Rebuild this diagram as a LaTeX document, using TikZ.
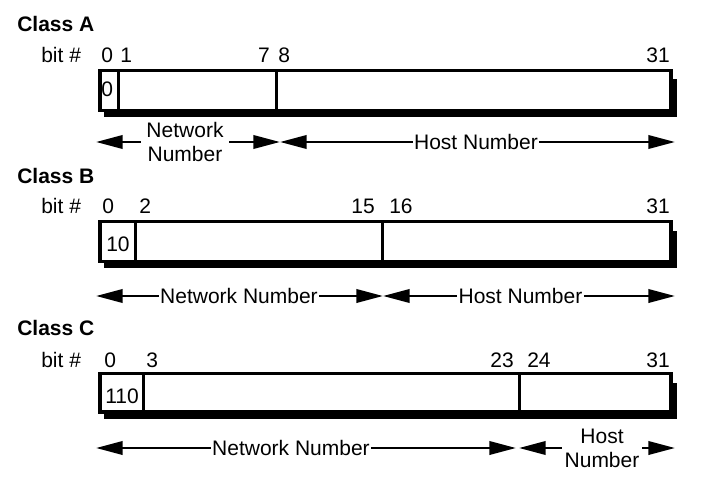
\documentclass[tikz,border=0pt]{standalone}
\usepackage{fontspec}
\setmainfont{Liberation Sans}
\usetikzlibrary{arrows.meta}

\begin{document}
\begin{tikzpicture}[x=0.75pt,y=-0.75pt,
					font=\fontsize{15.75}{18}\selectfont,
					frame/.style={line width=2.5pt, fill=white},
					sep/.style={line width=2.5pt},
					arr/.style={line width=2pt, -{Triangle[length=20pt,width=10pt]}},
					lbl/.style={inner sep=1pt},
					bit/.style={inner sep=0pt},
					cls/.style={anchor=base west, inner sep=0pt, font=\fontsize{15.75}{18}\selectfont\bfseries}]
					\useasboundingbox (0,0) rectangle (702,499);
					\foreach \t/\b/\c/\d in {70.5/110.5/118.5/276.5, 221.5/261.5/135.5/382.5, 373.5/412/143.5/519.5}{
						\fill (104,\t+9) rectangle (677,\b+6.5);
						\draw [frame] (100,\t) rectangle (671,\b);
						\draw [sep] (\c,\t) -- (\c,\b);
						\draw [sep] (\d,\t) -- (\d,\b);
					}
					% Class A
					\node [cls] (clsA) at (17,31.5) {Class A};
					\node [bit, anchor=base west] (bitA) at (41,63) {bit \#};
					\node [bit, anchor=base west] (a0) at (101,63) {0};
					\node [bit, anchor=base west] (a1) at (120,63) {1};
					\node [bit, anchor=base east] (a7) at (270,63) {7};
					\node [bit, anchor=base west] (a8) at (278,63) {8};
					\node [bit, anchor=base east] (a31) at (670,63) {31};
					\node [bit, anchor=base west] (fA) at (101,97) {0};
					\node [lbl, inner sep=4pt, align=center] (netA) at (185,142) {Network\\Number};
					\node [lbl] (hostA) at (476,142) {Host Number};
					\coordinate (netAl) at (96,142);
					\coordinate (netAr) at (280,142);
					\coordinate (hostAr) at (675,142);
					\draw [arr] (netA) -- (netAl);
					\draw [arr] (netA) -- (netAr);
					\draw [arr] (hostA) -- (netAr);
					\draw [arr] (hostA) -- (hostAr);
					% Class B
					\node [cls] (clsB) at (17,183) {Class B};
					\node [bit, anchor=base west] (bitB) at (41,213.5) {bit \#};
					\node [bit, anchor=base west] (b0) at (102,213.5) {0};
					\node [bit, anchor=base west] (b2) at (139,213.5) {2};
					\node [bit, anchor=base east] (b15) at (375,213.5) {15};
					\node [bit, anchor=base west] (b16) at (389,213.5) {16};
					\node [bit, anchor=base east] (b31) at (670,213.5) {31};
					\node [bit, anchor=base west] (fB) at (106,251) {10};
					\node [lbl] (netB) at (239,296) {Network Number};
					\node [lbl] (hostB) at (520.5,296) {Host Number};
					\coordinate (netBl) at (96,296);
					\coordinate (netBr) at (383,296);
					\coordinate (hostBr) at (675,296);
					\draw [arr] (netB) -- (netBl);
					\draw [arr] (netB) -- (netBr);
					\draw [arr] (hostB) -- (netBr);
					\draw [arr] (hostB) -- (hostBr);
					% Class C
					\node [cls] (clsC) at (17,335) {Class C};
					\node [bit, anchor=base west] (bitC) at (41,367.5) {bit \#};
					\node [bit, anchor=base west] (c0) at (104,367.5) {0};
					\node [bit, anchor=base west] (c3) at (146,367.5) {3};
					\node [bit, anchor=base east] (c23) at (514,367.5) {23};
					\node [bit, anchor=base west] (c24) at (527,367.5) {24};
					\node [bit, anchor=base east] (c31) at (670,367.5) {31};
					\node [bit, anchor=base west] (fC) at (105,403) {110};
					\node [lbl] (netC) at (291,448) {Network Number};
					\node [lbl, inner sep=2pt, align=center] (hostC) at (602,448) {Host\\Number};
					\coordinate (netCl) at (96,448);
					\coordinate (netCr) at (516,448);
					\coordinate (hostCl) at (519,448);
					\coordinate (hostCr) at (675,448);
					\draw [arr] (netC) -- (netCl);
					\draw [arr] (netC) -- (netCr);
					\draw [arr] (hostC) -- (hostCl);
					\draw [arr] (hostC) -- (hostCr);
\end{tikzpicture}
\end{document}
